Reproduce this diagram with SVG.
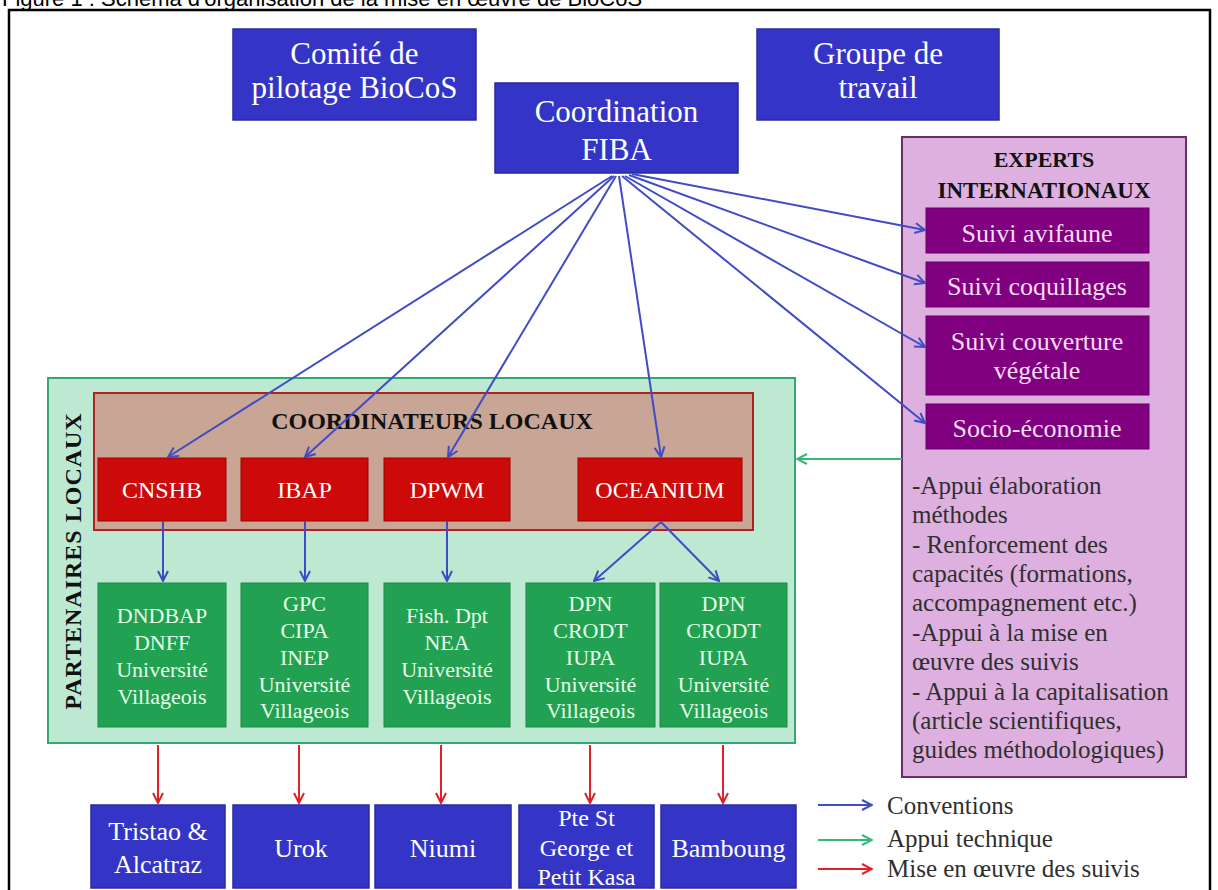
<svg xmlns="http://www.w3.org/2000/svg" width="1218" height="890" viewBox="0 0 1218 890">
<defs>
<style>
text{font-family:"Liberation Serif","Times New Roman",serif;}
.cap{font-family:"Liberation Sans",Arial,sans-serif;font-size:22px;fill:#000;}
.bb{fill:#3434c6;stroke:#2a2aa0;stroke-width:1.5;}
.wt{fill:#fff;text-anchor:middle;}
.big{font-size:31px;}
.bot{font-size:26px;}
.red{fill:#cc0a0a;stroke:#a00000;stroke-width:1;}
.rt{fill:#fff;text-anchor:middle;font-size:24px;}
.grn{fill:#22a152;stroke:#1b8a44;stroke-width:1;}
.gt{fill:#e6ffe8;text-anchor:middle;font-size:22px;}
.pur{fill:#800080;stroke:#6a006a;stroke-width:1;}
.pt{fill:#f6dcf6;text-anchor:middle;font-size:26px;}
.body{fill:#2f2f2f;font-size:25px;}
.bold{font-weight:bold;fill:#111;text-anchor:middle;}
.cb{fill:none;stroke:#3f4cc4;stroke-width:2;}
.cg{fill:none;stroke:#33b87a;stroke-width:2;}
.cr{fill:none;stroke:#e0202a;stroke-width:2;}
</style>
<marker id="ab" viewBox="0 0 12 12" refX="11" refY="6" markerWidth="12" markerHeight="12" markerUnits="userSpaceOnUse" orient="auto"><path d="M1,1 L11,6 L1,11" fill="none" stroke="#3f4cc4" stroke-width="2"/></marker>
<marker id="ag" viewBox="0 0 12 12" refX="11" refY="6" markerWidth="12" markerHeight="12" markerUnits="userSpaceOnUse" orient="auto"><path d="M1,1 L11,6 L1,11" fill="none" stroke="#33b87a" stroke-width="2"/></marker>
<marker id="ar" viewBox="0 0 12 12" refX="11" refY="6" markerWidth="12" markerHeight="12" markerUnits="userSpaceOnUse" orient="auto"><path d="M1,1 L11,6 L1,11" fill="none" stroke="#e0202a" stroke-width="2"/></marker>
</defs>
<rect x="0" y="0" width="1218" height="890" fill="#ffffff"/>
<text class="cap" x="2" y="6">Figure 1 : Schéma d'organisation de la mise en œuvre de BioCoS</text>
<rect x="9" y="10" width="1201" height="900" fill="#ffffff" stroke="#000" stroke-width="2.5"/>

<g id="n-comite"><rect class="bb" x="233" y="29" width="243" height="91"/>
<text class="wt big" x="354.5" y="64">Comité de</text><text class="wt big" x="354.5" y="98">pilotage BioCoS</text></g>
<g id="n-coordination"><rect class="bb" x="495" y="83" width="243" height="90"/>
<text class="wt big" x="616.5" y="122">Coordination</text><text class="wt big" x="616.5" y="160">FIBA</text></g>
<g id="n-groupe"><rect class="bb" x="757" y="29" width="242" height="91"/>
<text class="wt big" x="878" y="64">Groupe de</text><text class="wt big" x="878" y="98">travail</text></g>

<g id="n-experts"><rect x="902" y="137" width="284" height="640" fill="#ddb0df" stroke="#6a2c6a" stroke-width="2"/>
<text class="bold" x="1044" y="167" font-size="22">EXPERTS</text>
<text class="bold" x="1044" y="198" font-size="23">INTERNATIONAUX</text>
<text class="body" x="912" y="494">-Appui élaboration</text>
<text class="body" x="912" y="523">méthodes</text>
<text class="body" x="912" y="553">- Renforcement des</text>
<text class="body" x="912" y="582">capacités (formations,</text>
<text class="body" x="912" y="611">accompagnement etc.)</text>
<text class="body" x="912" y="641">-Appui à la mise en</text>
<text class="body" x="912" y="670">œuvre des suivis</text>
<text class="body" x="912" y="700">- Appui à la capitalisation</text>
<text class="body" x="912" y="729">(article scientifiques,</text>
<text class="body" x="912" y="758">guides méthodologiques)</text></g>
<g id="n-avifaune"><rect class="pur" x="926" y="208" width="223" height="45"/><text class="pt" x="1037" y="242">Suivi avifaune</text></g>
<g id="n-coquillages"><rect class="pur" x="926" y="262" width="223" height="45"/><text class="pt" x="1037" y="295">Suivi coquillages</text></g>
<g id="n-couverture"><rect class="pur" x="926" y="316" width="223" height="79"/><text class="pt" x="1037" y="350">Suivi couverture</text><text class="pt" x="1037" y="379">végétale</text></g>
<g id="n-socio"><rect class="pur" x="926" y="404" width="223" height="45"/><text class="pt" x="1037" y="437">Socio-économie</text></g>

<g id="n-partenaires"><rect x="48" y="378" width="747" height="365" fill="#bde9d3" stroke="#35a872" stroke-width="2"/>
<text class="bold" transform="translate(81,561) rotate(-90)" font-size="24" letter-spacing="1">PARTENAIRES LOCAUX</text></g>
<g id="n-coordinateurs"><rect x="94" y="393" width="659" height="137" fill="#c9a596" stroke="#b02222" stroke-width="2"/>
<text class="bold" x="432" y="429" font-size="24">COORDINATEURS LOCAUX</text></g>
<g id="n-cnshb"><rect class="red" x="98" y="458" width="128" height="63"/><text class="rt" x="162" y="498">CNSHB</text></g>
<g id="n-ibap"><rect class="red" x="241" y="458" width="127" height="63"/><text class="rt" x="304.5" y="498">IBAP</text></g>
<g id="n-dpwm"><rect class="red" x="384" y="458" width="126" height="63"/><text class="rt" x="447" y="498">DPWM</text></g>
<g id="n-oceanium"><rect class="red" x="578" y="458" width="164" height="63"/><text class="rt" x="660" y="498">OCEANIUM</text></g>

<g id="n-g1"><rect class="grn" x="98" y="583" width="128" height="144"/>
<text class="gt" x="162" y="623">DNDBAP</text><text class="gt" x="162" y="650">DNFF</text><text class="gt" x="162" y="677">Université</text><text class="gt" x="162" y="704">Villageois</text></g>
<g id="n-g2"><rect class="grn" x="241" y="583" width="127" height="144"/>
<text class="gt" x="304.5" y="611">GPC</text><text class="gt" x="304.5" y="638">CIPA</text><text class="gt" x="304.5" y="665">INEP</text><text class="gt" x="304.5" y="692">Université</text><text class="gt" x="304.5" y="718">Villageois</text></g>
<g id="n-g3"><rect class="grn" x="384" y="583" width="126" height="144"/>
<text class="gt" x="447" y="623">Fish. Dpt</text><text class="gt" x="447" y="650">NEA</text><text class="gt" x="447" y="677">Université</text><text class="gt" x="447" y="704">Villageois</text></g>
<g id="n-g4"><rect class="grn" x="526" y="583" width="129" height="144"/>
<text class="gt" x="590.5" y="611">DPN</text><text class="gt" x="590.5" y="638">CRODT</text><text class="gt" x="590.5" y="665">IUPA</text><text class="gt" x="590.5" y="692">Université</text><text class="gt" x="590.5" y="718">Villageois</text></g>
<g id="n-g5"><rect class="grn" x="660" y="583" width="127" height="144"/>
<text class="gt" x="723.5" y="611">DPN</text><text class="gt" x="723.5" y="638">CRODT</text><text class="gt" x="723.5" y="665">IUPA</text><text class="gt" x="723.5" y="692">Université</text><text class="gt" x="723.5" y="718">Villageois</text></g>

<g id="n-tristao"><rect class="bb" x="91" y="805" width="134" height="83"/><text class="wt bot" x="158" y="840">Tristao &amp;</text><text class="wt bot" x="158" y="873">Alcatraz</text></g>
<g id="n-urok"><rect class="bb" x="233" y="805" width="136" height="83"/><text class="wt bot" x="301" y="857">Urok</text></g>
<g id="n-niumi"><rect class="bb" x="375" y="805" width="136" height="83"/><text class="wt bot" x="443" y="857">Niumi</text></g>
<g id="n-pte"><rect class="bb" x="519" y="805" width="135" height="83"/><text class="wt" font-size="24" x="586.5" y="826">Pte St</text><text class="wt" font-size="24" x="586.5" y="856">George et</text><text class="wt" font-size="24" x="586.5" y="885">Petit Kasa</text></g>
<g id="n-bamboung"><rect class="bb" x="661" y="805" width="135" height="83"/><text class="wt bot" x="728.5" y="857">Bamboung</text></g>

<g id="connectors">
<path class="cb" marker-end="url(#ab)" d="M612,176 L168,457"/>
<path class="cb" marker-end="url(#ab)" d="M614,176 L305,457"/>
<path class="cb" marker-end="url(#ab)" d="M616,176 L448,457"/>
<path class="cb" marker-end="url(#ab)" d="M619,176 L661,457"/>
<path class="cb" marker-end="url(#ab)" d="M632,174 L925,230"/>
<path class="cb" marker-end="url(#ab)" d="M629,175 L925,283"/>
<path class="cb" marker-end="url(#ab)" d="M625,176 L925,347"/>
<path class="cb" marker-end="url(#ab)" d="M622,176 L925,423"/>
<path class="cb" marker-end="url(#ab)" d="M163,521 L163,581"/>
<path class="cb" marker-end="url(#ab)" d="M305,521 L305,581"/>
<path class="cb" marker-end="url(#ab)" d="M447,521 L447,581"/>
<path class="cb" marker-end="url(#ab)" d="M661,522 L594,581"/>
<path class="cb" marker-end="url(#ab)" d="M661,522 L719,581"/>
<path class="cg" marker-end="url(#ag)" d="M902,459 L797,459"/>
<path class="cr" marker-end="url(#ar)" d="M158,745 L158,803"/>
<path class="cr" marker-end="url(#ar)" d="M299,745 L299,803"/>
<path class="cr" marker-end="url(#ar)" d="M441,745 L441,803"/>
<path class="cr" marker-end="url(#ar)" d="M590,745 L590,803"/>
<path class="cr" marker-end="url(#ar)" d="M723,745 L723,803"/>
</g>

<g id="legend">
<path class="cb" marker-end="url(#ab)" d="M818,805 L872,805"/>
<path class="cg" marker-end="url(#ag)" d="M818,840 L872,840"/>
<path class="cr" marker-end="url(#ar)" d="M818,869 L872,869"/>
<text class="body" x="887" y="814">Conventions</text>
<text class="body" x="887" y="847">Appui technique</text>
<text class="body" x="887" y="877">Mise en œuvre des suivis</text>
</g>
</svg>
